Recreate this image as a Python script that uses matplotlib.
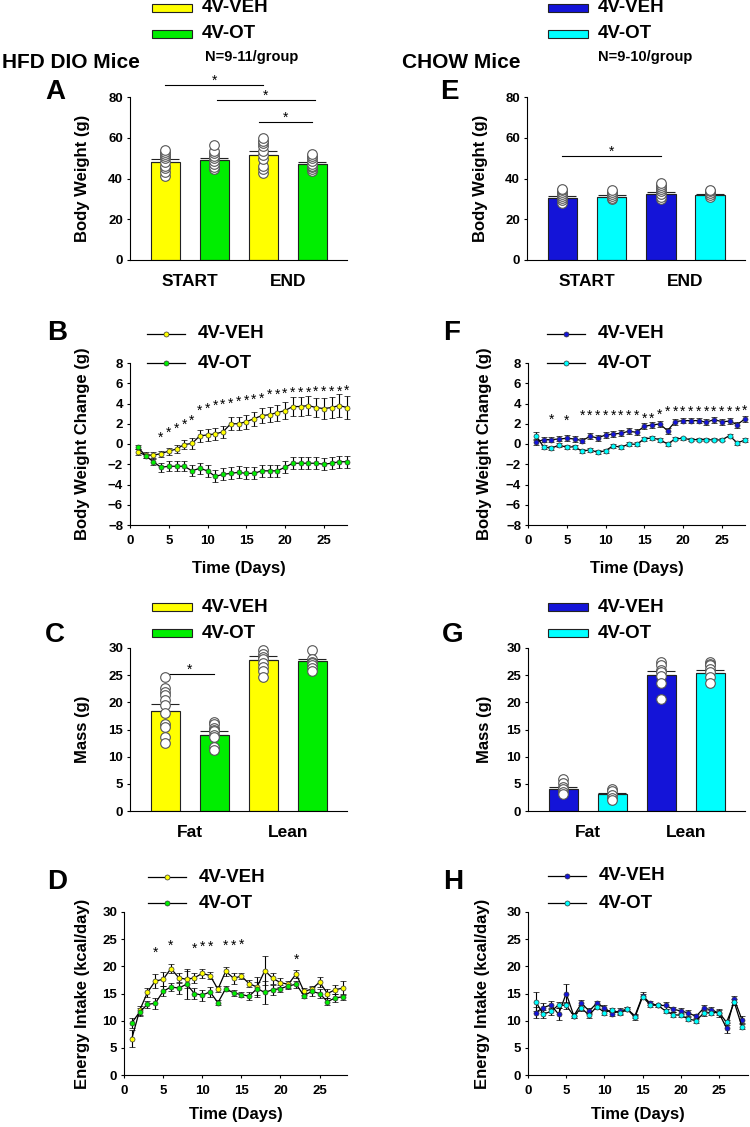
import numpy as np
import matplotlib.pyplot as plt
import matplotlib.transforms as mtransforms
from matplotlib.patches import Rectangle
from matplotlib.lines import Line2D

plt.rcParams['font.family'] = ['Liberation Sans', 'DejaVu Sans']
plt.rcParams['font.weight'] = 'bold'
plt.rcParams['axes.labelweight'] = 'bold'
plt.rcParams['axes.linewidth'] = 0.8

# ---------------- data ----------------
days = np.arange(1, 29)

# A - HFD body weight start/end  (VEH start, OT start, VEH end, OT end)
a_means = [48.2, 49.0, 51.6, 47.0]
a_sems = [1.5, 1.3, 1.8, 0.9]
a_veh_start = [41, 43, 45, 46, 48, 50, 51, 52, 53, 54]
a_ot_start = [44.5, 45.5, 47, 48.5, 50, 51, 52.5, 53.5, 56.5]
a_veh_end = [42.5, 44.5, 46, 49.5, 51.5, 53.5, 56, 57.5, 58.5, 60]
a_ot_end = [43.5, 44.5, 45.5, 46, 47, 48.5, 50, 51, 52]

# E - CHOW body weight start/end
e_means = [30.5, 31.0, 32.6, 31.7]
e_sems = [1.0, 0.8, 0.9, 0.5]
e_veh_start = [28, 29.5, 30.5, 31.5, 32.5, 33.5, 34.5, 35]
e_ot_start = [29.7, 30.5, 31.5, 32.5, 33.5, 34.3]
e_veh_end = [29.7, 31, 32.5, 34, 35, 36, 37, 37.9]
e_ot_end = [31, 32, 33, 34, 34.6]

# B - HFD body weight change
b_veh = [-0.8, -1.1, -1.1, -0.95, -0.7, -0.5, -0.05, 0.05, 0.8, 0.9, 1.0, 1.2, 2.0, 2.0,
         2.2, 2.5, 2.8, 2.9, 3.1, 3.3, 3.7, 3.7, 3.8, 3.6, 3.5, 3.6, 3.8, 3.6]
b_veh_sem = [0.3, 0.3, 0.3, 0.3, 0.35, 0.4, 0.45, 0.5, 0.6, 0.6, 0.6, 0.6, 0.65, 0.65,
             0.7, 0.7, 0.75, 0.75, 0.8, 0.85, 0.9, 0.9, 0.95, 0.95, 1.05, 1.05, 1.15, 1.15]
b_ot = [-0.3, -1.15, -1.75, -2.3, -2.2, -2.2, -2.2, -2.65, -2.4, -2.65, -3.2, -3.0, -2.9, -2.8,
        -2.9, -2.9, -2.65, -2.65, -2.65, -2.3, -1.9, -1.9, -1.9, -1.9, -2.0, -1.9, -1.75, -1.75]
b_ot_sem = [0.2, 0.2, 0.3, 0.45, 0.5, 0.5, 0.5, 0.55, 0.55, 0.6, 0.6, 0.6, 0.6, 0.6,
            0.6, 0.6, 0.6, 0.6, 0.6, 0.6, 0.6, 0.6, 0.6, 0.6, 0.6, 0.6, 0.6, 0.6]
b_star_days = np.arange(4, 29)
b_star_y = [1.06, 1.49, 1.92, 2.31, 2.74, 3.64, 3.9, 4.13, 4.23, 4.36, 4.53, 4.69, 4.79,
            4.89, 5.22, 5.29, 5.36, 5.42, 5.45, 5.49, 5.52, 5.55, 5.55, 5.59, 5.65]

# F - CHOW body weight change
f_veh = [0.17, 0.43, 0.43, 0.5, 0.56, 0.5, 0.33, 0.76, 0.6, 0.89, 0.99, 1.06, 1.26, 1.16,
         1.75, 1.88, 1.98, 1.32, 2.21, 2.31, 2.31, 2.31, 2.15, 2.41, 2.21, 2.25, 1.92, 2.48]
f_veh_sem = [0.3, 0.25, 0.25, 0.25, 0.3, 0.3, 0.25, 0.3, 0.3, 0.3, 0.3, 0.3, 0.3, 0.3,
             0.3, 0.3, 0.3, 0.3, 0.3, 0.25, 0.25, 0.25, 0.3, 0.3, 0.3, 0.3, 0.3, 0.3]
f_ot = [0.83, -0.26, -0.43, -0.1, -0.33, -0.26, -0.73, -0.56, -0.83, -0.66, -0.17, -0.33,
        0.0, -0.03, 0.5, 0.6, 0.43, 0.0, 0.5, 0.56, 0.43, 0.43, 0.43, 0.4, 0.4, 0.83, 0.1, 0.4]
f_ot_sem = [0.4, 0.2, 0.2, 0.2, 0.2, 0.2, 0.2, 0.2, 0.2, 0.2, 0.2, 0.2, 0.2, 0.2,
            0.2, 0.2, 0.2, 0.2, 0.15, 0.15, 0.15, 0.15, 0.15, 0.15, 0.15, 0.15, 0.2, 0.2]
f_star_days = [3, 5] + list(range(7, 29))
f_star_y = [2.8, 2.65, 3.15, 3.15, 3.15, 3.15, 3.15, 3.15, 3.15, 3.15, 2.9, 2.9, 3.3,
            3.55, 3.55, 3.55, 3.55, 3.55, 3.55, 3.55, 3.55, 3.55, 3.55, 3.7]

# C - HFD body composition (VEH fat, OT fat, VEH lean, OT lean)
c_means = [18.4, 14.05, 27.85, 27.55]
c_sems = [1.3, 0.7, 0.7, 0.45]
c_veh_fat = [24.7, 22.7, 21.9, 21.3, 20.5, 19.5, 18.0, 16.1, 15.5, 13.7, 12.5]
c_ot_fat = [16.4, 16.0, 15.2, 15.0, 14.7, 14.0, 13.6, 11.8, 11.3]
c_veh_lean = [29.6, 28.9, 28.4, 28.0, 27.2, 26.5, 25.8, 24.7]
c_ot_lean = [29.6, 28.0, 27.5, 27.2, 26.8, 26.3, 25.8]

# G - CHOW body composition
g_means = [4.1, 3.1, 25.1, 25.4]
g_sems = [0.35, 0.25, 0.7, 0.5]
g_veh_fat = [5.95, 5.15, 4.5, 4.0, 3.5, 3.1]
g_ot_fat = [4.1, 3.6, 2.9, 2.4, 2.0]
g_veh_lean = [27.4, 26.8, 26.0, 25.5, 24.8, 23.6, 20.7]
g_ot_lean = [27.4, 27.0, 26.9, 26.2, 25.6, 24.7, 23.5]

# D - HFD energy intake
d_veh = [6.7, 11.9, 15.2, 17.3, 17.6, 19.6, 17.9, 17.6, 17.9, 18.7, 18.3, 15.8, 19.1, 17.8,
         18.2, 16.8, 16.2, 19.2, 17.8, 17.0, 16.7, 18.6, 15.4, 15.8, 17.1, 15.0, 15.7, 16.0]
d_veh_sem = [1.6, 0.8, 0.8, 1.3, 1.3, 0.8, 0.8, 1.5, 0.9, 0.9, 0.7, 0.6, 0.8, 1.0,
             0.5, 0.6, 1.8, 2.7, 1.0, 0.8, 0.6, 0.7, 0.7, 0.5, 0.9, 0.8, 0.8, 1.3]
d_ot = [9.6, 11.6, 13.0, 13.2, 15.4, 16.2, 16.0, 16.7, 15.0, 14.7, 15.3, 13.3, 15.9, 15.1,
        14.8, 14.5, 15.9, 15.2, 15.7, 15.9, 16.4, 16.7, 14.6, 15.4, 15.0, 13.5, 14.2, 14.4]
d_ot_sem = [0.9, 0.7, 0.7, 1.0, 0.9, 0.8, 1.0, 2.8, 1.0, 1.0, 0.9, 0.5, 0.5, 0.6,
            0.5, 0.7, 1.2, 2.1, 0.9, 0.6, 0.5, 0.6, 0.5, 0.8, 0.8, 0.7, 0.8, 0.6]
d_star_days = [4, 6, 9, 10, 11, 13, 14, 15, 22]
d_star_y = [23.3, 24.6, 24.0, 24.4, 24.4, 24.6, 24.5, 24.7, 21.9]

# H - CHOW energy intake
h_veh = [11.5, 12.4, 12.9, 11.2, 15.0, 10.9, 13.2, 11.8, 13.2, 12.4, 11.3, 11.8, 12.1, 10.9,
         14.6, 13.2, 12.8, 12.8, 12.1, 11.8, 11.4, 10.8, 12.3, 12.0, 11.4, 8.6, 14.0, 10.2]
h_veh_sem = [1.0, 0.8, 0.7, 1.1, 1.8, 0.5, 0.6, 0.5, 0.5, 0.5, 0.5, 0.5, 0.4, 0.4,
             0.6, 0.4, 0.3, 0.6, 0.5, 0.5, 0.5, 0.5, 0.6, 0.6, 0.7, 0.9, 0.5, 0.6]
h_ot = [13.5, 11.2, 11.7, 12.9, 12.8, 10.9, 12.3, 11.0, 12.6, 11.5, 12.0, 11.4, 12.1, 10.6,
        14.4, 12.9, 12.8, 11.8, 11.1, 11.0, 10.3, 10.0, 11.4, 11.5, 11.5, 9.7, 13.4, 8.9]
h_ot_sem = [1.7, 0.8, 0.6, 0.5, 0.6, 0.5, 0.5, 0.5, 0.5, 0.5, 0.4, 0.4, 0.4, 0.4,
            0.5, 0.4, 0.3, 0.4, 0.5, 0.4, 0.4, 0.4, 0.5, 0.5, 0.5, 0.5, 0.5, 0.5]

YELLOW, GREEN = '#FFFF00', '#00EE00'
BLUE, CYAN = '#1414D8', '#00FFFF'

# ---------------- figure / helpers ----------------
W, H = 750, 1127
fig = plt.figure(figsize=(7.5, 11.27), dpi=100)


def box(x0, y0, x1, y1):
    return [x0 / W, 1 - y1 / H, (x1 - x0) / W, (y1 - y0) / H]


def ftext(x, y, s, **kw):
    fig.text(x / W, 1 - y / H, s, fontweight='bold', **kw)


def style(ax):
    for s in ['top', 'right']:
        ax.spines[s].set_visible(False)
    ax.tick_params(direction='out', length=2.5, width=0.8, labelsize=9.5, pad=2.5)
    for t in ax.get_xticklabels() + ax.get_yticklabels():
        t.set_fontweight('bold')


def ylab(ax, text, xpx):
    ax.set_ylabel(text, fontsize=12, fontweight='bold')
    tr = mtransforms.blended_transform_factory(fig.transFigure, ax.transAxes)
    ax.yaxis.set_label_coords(xpx / W, 0.5, transform=tr)
    ax.yaxis.label.set_va('center')


def xlab(ax, text, ypx):
    ax.set_xlabel(text, fontsize=12, fontweight='bold')
    tr = mtransforms.blended_transform_factory(ax.transAxes, fig.transFigure)
    ax.xaxis.set_label_coords(0.5, 1 - ypx / H, transform=tr)
    ax.xaxis.label.set_va('center')


def star(ax, x, y, dy=-5.8):
    ax.annotate('*', (x, y), xytext=(0, dy), textcoords='offset points', ha='center',
                va='baseline', fontsize=10, fontweight='normal', annotation_clip=False)


def bar_panel(rect, means, sems, pts, colors, ylim, yticks, groups):
    ax = fig.add_axes(box(*rect))
    pos = np.arange(4)
    ax.bar(pos, means, width=0.6, color=colors, edgecolor='#222222', linewidth=0.8, zorder=2)
    ax.errorbar(pos, means, yerr=[np.zeros(4), sems], fmt='none', ecolor='#222222',
                elinewidth=0.8, capsize=10, capthick=0.8, zorder=3)
    for i, p in enumerate(pts):
        ax.scatter(np.full(len(p), i), p, s=48, facecolor='white', edgecolor='#555555',
                   linewidth=0.8, zorder=4, clip_on=False)
    ax.set_xlim(-0.72, 3.71)
    ax.set_ylim(*ylim)
    ax.set_yticks(yticks)
    ax.set_xticks([0.5, 2.5])
    ax.set_xticklabels(groups)
    style(ax)
    # START/END style group labels: bigger, no tick marks
    ax.tick_params(axis='x', length=0, pad=10, labelsize=12.5)
    return ax


def line_panel(rect, xlim, veh, veh_sem, ot, ot_sem, cols, ylim, yticks):
    ax = fig.add_axes(box(*rect))
    for m, s, c in [(veh, veh_sem, cols[0]), (ot, ot_sem, cols[1])]:
        ax.errorbar(days, m, yerr=s, color='black', lw=0.9, elinewidth=0.8, capsize=2,
                    capthick=0.8, marker='o', ms=3.6, mfc=c, mec='#333333', mew=0.5,
                    clip_on=False, zorder=3)
    ax.set_xlim(*xlim)
    ax.set_ylim(*ylim)
    ax.set_yticks(yticks)
    ax.set_xticks([0, 5, 10, 15, 20, 25])
    style(ax)
    ax.tick_params(axis='x', pad=5)
    return ax


def sig_line(ax, x0, x1, y):
    ax.plot([x0, x1], [y, y], color='black', lw=0.8, clip_on=False)
    star(ax, (x0 + x1) / 2, y, dy=0.5)


def bar_key(x, y, color, label):
    fig.add_artist(Rectangle((x / W, 1 - (y + 4) / H), 40 / W, 8 / H, transform=fig.transFigure,
                             facecolor=color, edgecolor='#222222', lw=0.8))
    ftext(x + 50, y, label, fontsize=13.5, va='center')


def line_key(x, y, color, label):
    fig.add_artist(Line2D([x / W, (x + 38) / W], [1 - y / H] * 2, transform=fig.transFigure,
                          color='black', lw=0.9))
    fig.add_artist(Line2D([(x + 19) / W], [1 - y / H], transform=fig.transFigure, marker='o',
                          ms=3.6, mfc=color, mec='#333333', mew=0.5))
    ftext(x + 51, y, label, fontsize=13.5, va='center')


def letter(x, y, s):
    ftext(x, y, s, fontsize=20, va='center')


# ---------------- left column: HFD ----------------
cols_l = [YELLOW, GREEN, YELLOW, GREEN]
axA = bar_panel((130, 97, 347, 260), a_means, a_sems,
                [a_veh_start, a_ot_start, a_veh_end, a_ot_end], cols_l,
                (0, 80), [0, 20, 40, 60, 80], ['START', 'END'])
ylab(axA, 'Body Weight (g)', 83)
sig_line(axA, 0, 2, 85.8)
sig_line(axA, 1.05, 3.05, 78.4)
sig_line(axA, 1.92, 3.0, 67.7)

axB = line_panel((130, 363, 347, 525), (0, 28), b_veh, b_veh_sem, b_ot, b_ot_sem,
                 [YELLOW, GREEN], (-8, 8), np.arange(-8, 9, 2))
ylab(axB, 'Body Weight Change (g)', 83)
xlab(axB, 'Time (Days)', 568)
for d, y in zip(b_star_days, b_star_y):
    star(axB, d, y)

axC = bar_panel((130, 648, 347, 811), c_means, c_sems,
                [c_veh_fat, c_ot_fat, c_veh_lean, c_ot_lean], cols_l,
                (0, 30), np.arange(0, 31, 5), ['Fat', 'Lean'])
ylab(axC, 'Mass (g)', 83)
sig_line(axC, 0, 1, 25.2)

axD = line_panel((124, 912, 347, 1075), (0, 28.5), d_veh, d_veh_sem, d_ot, d_ot_sem,
                 [YELLOW, GREEN], (0, 30), np.arange(0, 31, 5))
ylab(axD, 'Energy Intake (kcal/day)', 83)
xlab(axD, 'Time (Days)', 1115)
for d, y in zip(d_star_days, d_star_y):
    star(axD, d, y)

# ---------------- right column: CHOW ----------------
cols_r = [BLUE, CYAN, BLUE, CYAN]
axE = bar_panel((527, 97, 745, 260), e_means, e_sems,
                [e_veh_start, e_ot_start, e_veh_end, e_ot_end], cols_r,
                (0, 80), [0, 20, 40, 60, 80], ['START', 'END'])
ylab(axE, 'Body Weight (g)', 480)
sig_line(axE, 0, 2, 51)

axF = line_panel((528, 363, 745, 525), (0, 28), f_veh, f_veh_sem, f_ot, f_ot_sem,
                 [BLUE, CYAN], (-8, 8), np.arange(-8, 9, 2))
ylab(axF, 'Body Weight Change (g)', 485)
xlab(axF, 'Time (Days)', 568)
for d, y in zip(f_star_days, f_star_y):
    star(axF, d, y)

axG = bar_panel((528, 648, 745, 811), g_means, g_sems,
                [g_veh_fat, g_ot_fat, g_veh_lean, g_ot_lean], cols_r,
                (0, 30), np.arange(0, 31, 5), ['Fat', 'Lean'])
ylab(axG, 'Mass (g)', 485)

axH = line_panel((528, 912, 748, 1075), (0, 28.8), h_veh, h_veh_sem, h_ot, h_ot_sem,
                 [BLUE, CYAN], (0, 30), np.arange(0, 31, 5))
ylab(axH, 'Energy Intake (kcal/day)', 483)
xlab(axH, 'Time (Days)', 1115)

# ---------------- titles, letters, keys ----------------
ftext(2, 63, 'HFD DIO Mice', fontsize=15, va='center')
ftext(402, 63, 'CHOW Mice', fontsize=15, va='center')
ftext(205, 57, 'N=9-11/group', fontsize=10.5, va='center')
ftext(598, 57, 'N=9-10/group', fontsize=10.5, va='center')

for x, y, s in [(45, 92, 'A'), (47, 333, 'B'), (45, 635, 'C'), (47, 882, 'D'),
                (440, 92, 'E'), (443, 333, 'F'), (442, 635, 'G'), (443, 882, 'H')]:
    letter(x, y, s)

bar_key(152, 8, YELLOW, '4V-VEH')
bar_key(152, 34, GREEN, '4V-OT')
bar_key(548, 8, BLUE, '4V-VEH')
bar_key(548, 34, CYAN, '4V-OT')
bar_key(152, 607, YELLOW, '4V-VEH')
bar_key(152, 633, GREEN, '4V-OT')
bar_key(548, 607, BLUE, '4V-VEH')
bar_key(548, 633, CYAN, '4V-OT')

line_key(147, 334, YELLOW, '4V-VEH')
line_key(147, 363, GREEN, '4V-OT')
line_key(547, 334, BLUE, '4V-VEH')
line_key(547, 363, CYAN, '4V-OT')
line_key(148, 877, YELLOW, '4V-VEH')
line_key(148, 903, GREEN, '4V-OT')
line_key(548, 876, BLUE, '4V-VEH')
line_key(548, 903, CYAN, '4V-OT')

fig.savefig('out.png', dpi=100)
